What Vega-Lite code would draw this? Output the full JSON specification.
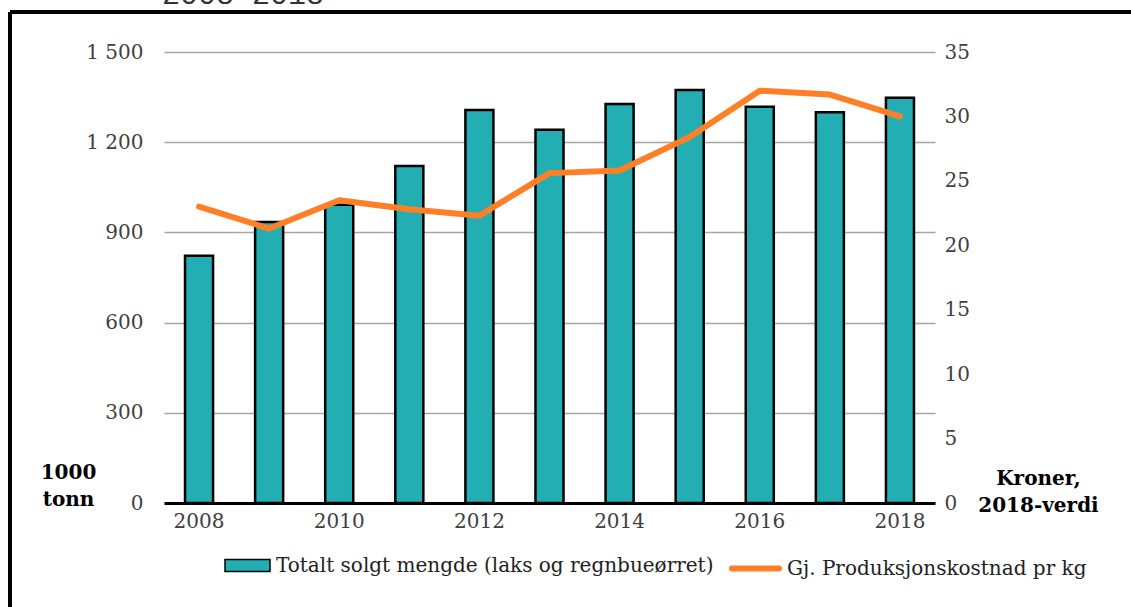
{
  "$schema": "https://vega.github.io/schema/vega-lite/v6.json",
  "width": 1121,
  "height": 595,
  "autosize": {"type": "none"},
  "padding": {"left": 10, "top": 12, "right": 0, "bottom": 0},
  "background": "white",
  "title": {"text": "2008-2018", "anchor": "start", "frame": "group", "orient": "top", "font": "Liberation Mono", "fontSize": 30, "fontWeight": "normal", "color": "#333333", "baseline": "alphabetic", "offset": -22, "dx": 152},
  "config": {
    "view": {"stroke": "black", "strokeWidth": 4, "strokeDash": [1121, 1716, 595, 0]},
    "font": "DejaVu Serif"
  },
  "data": {"values": [
    {"year": "2008", "tonn": 822, "kost": 23.0},
    {"year": "2009", "tonn": 935, "kost": 21.3},
    {"year": "2010", "tonn": 992, "kost": 23.5},
    {"year": "2011", "tonn": 1121, "kost": 22.8},
    {"year": "2012", "tonn": 1307, "kost": 22.3},
    {"year": "2013", "tonn": 1241, "kost": 25.6},
    {"year": "2014", "tonn": 1327, "kost": 25.8},
    {"year": "2015", "tonn": 1374, "kost": 28.4},
    {"year": "2016", "tonn": 1318, "kost": 32.0},
    {"year": "2017", "tonn": 1300, "kost": 31.7},
    {"year": "2018", "tonn": 1348, "kost": 30.0}
  ]},
  "encoding": {
    "x": {
      "field": "year", "type": "ordinal",
      "scale": {"range": [154, 925], "paddingInner": 0.6, "paddingOuter": 0.3},
      "axis": {"values": ["2008", "2010", "2012", "2014", "2016", "2018"], "title": null, "orient": "bottom", "offset": -104, "domain": true, "domainColor": "black", "domainWidth": 3, "ticks": false, "tickSize": 0, "labelPadding": 8, "labelFont": "DejaVu Serif", "labelFontSize": 20, "labelColor": "#404040", "labelAngle": 0, "grid": false}
    }
  },
  "layer": [
    {
      "mark": {"type": "bar", "stroke": "black", "strokeWidth": 2.5},
      "encoding": {
        "y": {
          "field": "tonn", "type": "quantitative",
          "scale": {"domain": [0, 1500], "range": [491, 40]},
          "axis": {"orient": "left", "offset": -150, "values": [0, 300, 600, 900, 1200, 1500], "labelExpr": "replace(format(datum.value, ','), ',', ' ')", "domain": false, "ticks": false, "tickSize": 0, "labelPadding": 17, "labelFont": "DejaVu Serif", "labelFontSize": 20, "labelColor": "#404040", "grid": true, "gridColor": "#A6A6A6", "gridWidth": 1.5, "title": ["1000", "tonn"], "titleAngle": 0, "titleX": -92, "titleY": 466, "titleAlign": "center", "titleBaseline": "alphabetic", "titleFont": "DejaVu Serif", "titleFontSize": 20, "titleFontWeight": "bold", "titleColor": "black", "titleLineHeight": 27}
        },
        "fill": {
          "datum": "Totalt solgt mengde (laks og regnbueørret)", "type": "nominal",
          "scale": {"range": ["#22AEB3"]},
          "legend": {"title": null, "orient": "none", "legendX": 214, "legendY": 530, "padding": 0, "symbolType": "M-1,-0.27H1V0.27H-1Z", "symbolSize": 2025, "labelFont": "DejaVu Serif", "labelFontSize": 20, "labelColor": "#222222", "labelLimit": 700, "labelOffset": 5, "encode": {"symbols": {"update": {"stroke": {"value": "black"}, "strokeWidth": {"value": 2.5}}}}}
        }
      }
    },
    {
      "mark": {"type": "line", "strokeWidth": 6, "strokeCap": "round", "strokeJoin": "round"},
      "encoding": {
        "y": {
          "field": "kost", "type": "quantitative",
          "scale": {"domain": [0, 35], "range": [491, 40]},
          "axis": {"orient": "right", "offset": -196, "values": [0, 5, 10, 15, 20, 25, 30, 35], "domain": false, "ticks": false, "tickSize": 0, "labelPadding": 9, "labelFont": "DejaVu Serif", "labelFontSize": 20, "labelColor": "#404040", "grid": false, "title": ["Kroner,", "2018-verdi"], "titleAngle": 0, "titleX": 103, "titleY": 472, "titleAlign": "center", "titleBaseline": "alphabetic", "titleFont": "DejaVu Serif", "titleFontSize": 20, "titleFontWeight": "bold", "titleColor": "black", "titleLineHeight": 27}
        },
        "stroke": {
          "datum": "Gj. Produksjonskostnad pr kg", "type": "nominal",
          "scale": {"range": ["#FF7F27"]},
          "legend": {"title": null, "orient": "none", "legendX": 719, "legendY": 530, "padding": 0, "symbolType": "stroke", "symbolSize": 2209, "symbolStrokeWidth": 6, "labelFont": "DejaVu Serif", "labelFontSize": 20, "labelColor": "#222222", "labelLimit": 700, "labelOffset": 5, "encode": {"symbols": {"update": {"strokeCap": {"value": "round"}}}}}
        }
      }
    }
  ],
  "resolve": {"scale": {"y": "independent"}, "axis": {"y": "independent"}}
}
